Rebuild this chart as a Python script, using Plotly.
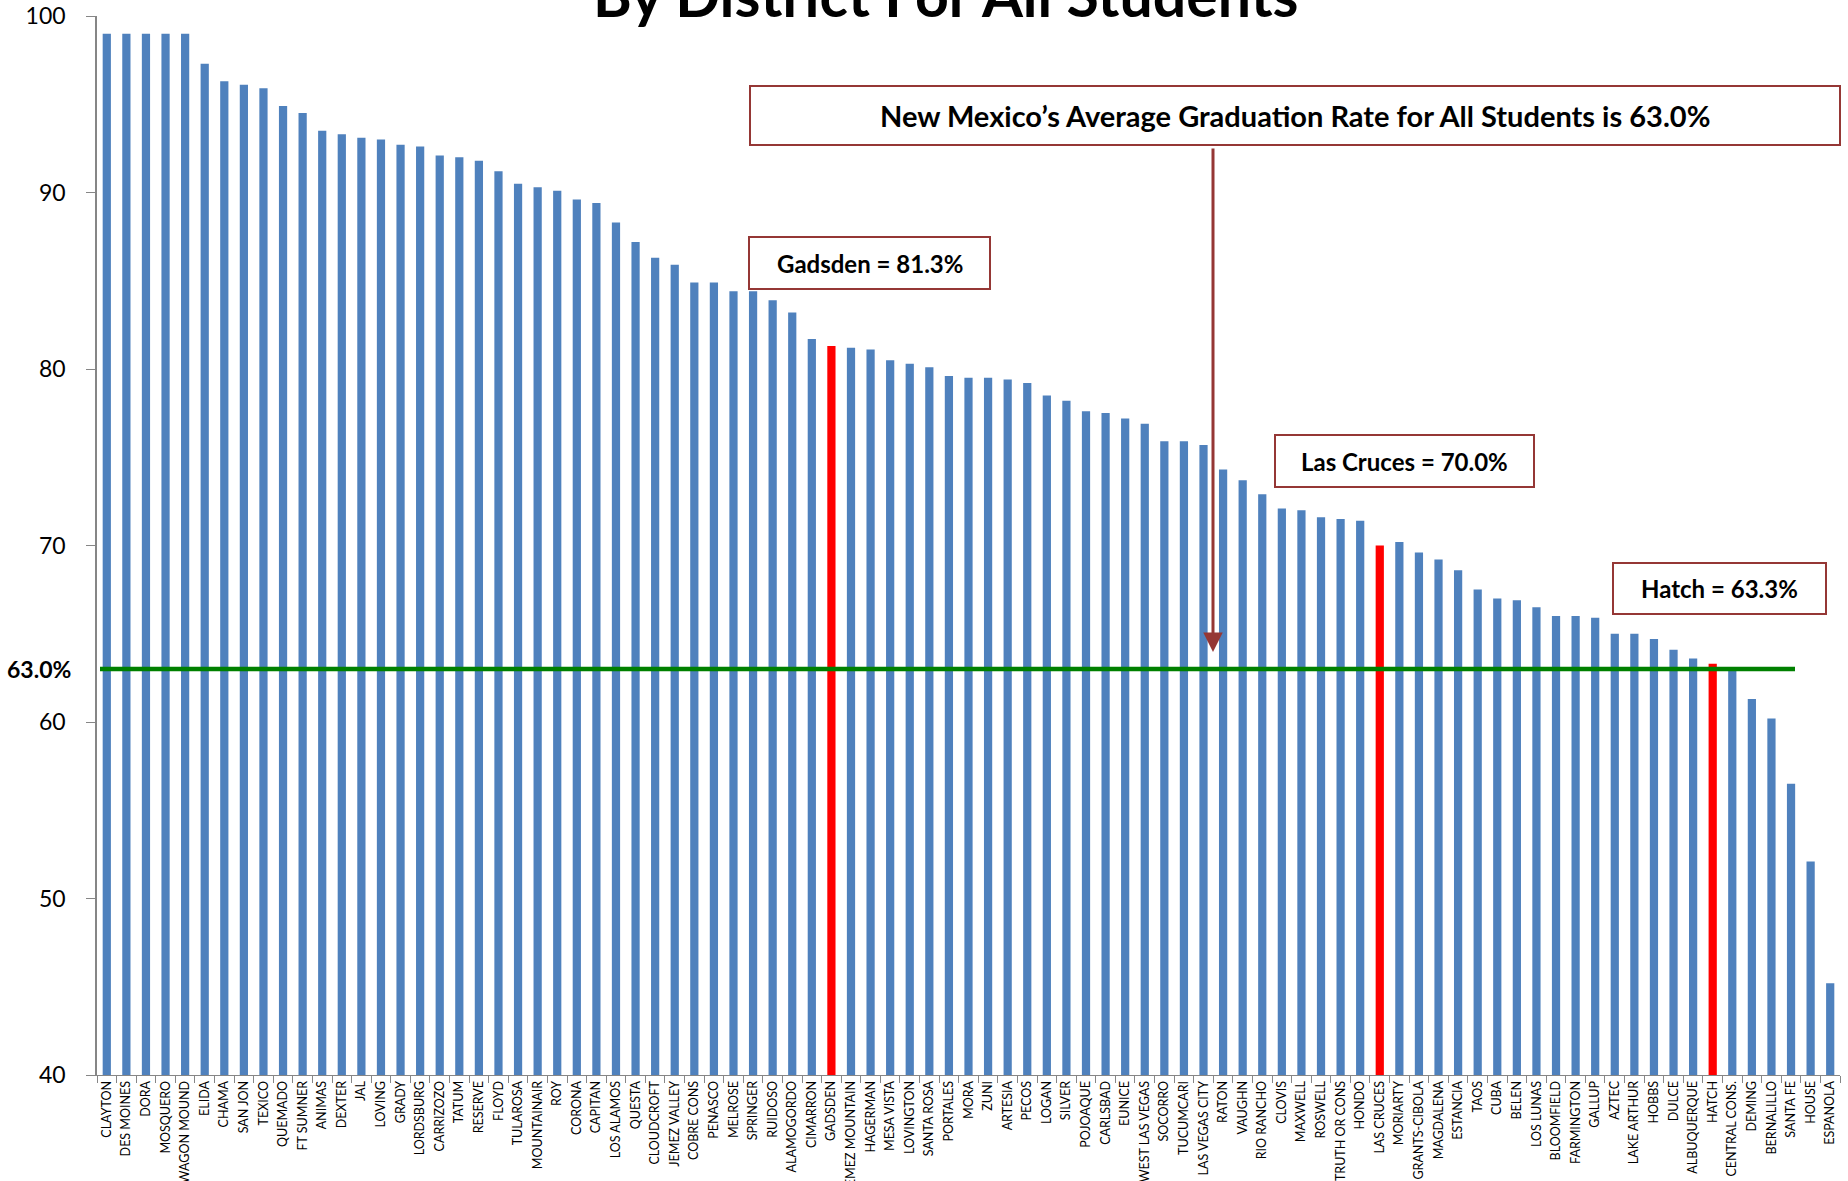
import plotly.graph_objects as go

# District graduation rates (%), all students, sorted high to low
districts = [
    "CLAYTON", "DES MOINES", "DORA", "MOSQUERO", "WAGON MOUND", "ELIDA", "CHAMA", "SAN JON",
    "TEXICO", "QUEMADO", "FT SUMNER", "ANIMAS", "DEXTER", "JAL", "LOVING", "GRADY",
    "LORDSBURG", "CARRIZOZO", "TATUM", "RESERVE", "FLOYD", "TULAROSA", "MOUNTAINAIR", "ROY",
    "CORONA", "CAPITAN", "LOS ALAMOS", "QUESTA", "CLOUDCROFT", "JEMEZ VALLEY", "COBRE CONS",
    "PENASCO", "MELROSE", "SPRINGER", "RUIDOSO", "ALAMOGORDO", "CIMARRON", "GADSDEN",
    "JEMEZ MOUNTAIN", "HAGERMAN", "MESA VISTA", "LOVINGTON", "SANTA ROSA", "PORTALES", "MORA",
    "ZUNI", "ARTESIA", "PECOS", "LOGAN", "SILVER", "POJOAQUE", "CARLSBAD", "EUNICE",
    "WEST LAS VEGAS", "SOCORRO", "TUCUMCARI", "LAS VEGAS CITY", "RATON", "VAUGHN",
    "RIO RANCHO", "CLOVIS", "MAXWELL", "ROSWELL", "TRUTH OR CONS", "HONDO", "LAS CRUCES",
    "MORIARTY", "GRANTS-CIBOLA", "MAGDALENA", "ESTANCIA", "TAOS", "CUBA", "BELEN",
    "LOS LUNAS", "BLOOMFIELD", "FARMINGTON", "GALLUP", "AZTEC", "LAKE ARTHUR", "HOBBS",
    "DULCE", "ALBUQUERQUE", "HATCH", "CENTRAL CONS.", "DEMING", "BERNALILLO", "SANTA FE",
    "HOUSE", "ESPANOLA",
]

rates = [
    99.0, 99.0, 99.0, 99.0, 99.0, 97.3, 96.3, 96.1,
    95.9, 94.9, 94.5, 93.5, 93.3, 93.1, 93.0, 92.7,
    92.6, 92.1, 92.0, 91.8, 91.2, 90.5, 90.3, 90.1,
    89.6, 89.4, 88.3, 87.2, 86.3, 85.9, 84.9,
    84.9, 84.4, 84.4, 83.9, 83.2, 81.7, 81.3,
    81.2, 81.1, 80.5, 80.3, 80.1, 79.6, 79.5,
    79.5, 79.4, 79.2, 78.5, 78.2, 77.6, 77.5, 77.2,
    76.9, 75.9, 75.9, 75.7, 74.3, 73.7,
    72.9, 72.1, 72.0, 71.6, 71.5, 71.4, 70.0,
    70.2, 69.6, 69.2, 68.6, 67.5, 67.0, 66.9,
    66.5, 66.0, 66.0, 65.9, 65.0, 65.0, 64.7,
    64.1, 63.6, 63.3, 62.9, 61.3, 60.2, 56.5,
    52.1, 45.2,
]

state_average = 63.0
highlighted = ["GADSDEN", "LAS CRUCES", "HATCH"]
callout_names = {"GADSDEN": "Gadsden", "LAS CRUCES": "Las Cruces", "HATCH": "Hatch"}
y_ticks = [40, 50, 60, 70, 80, 90, 100]

BLUE = "#4F81BD"
RED = "#FF0000"
BOX_RED = "#953735"
GREEN = "#008000"
FONT = "Lato"

W, H = 1848, 1181
L, R, T, B = 97, 8, 16, 106
PW, PH = W - L - R, H - T - B


def px(x):
    return (x - L) / PW


def py(y):
    return 1 - (y - T) / PH


bar_colors = [RED if d in highlighted else BLUE for d in districts]

fig = go.Figure()
fig.add_trace(go.Bar(
    x=districts, y=rates,
    marker=dict(color=bar_colors, line=dict(width=0)),
    hoverinfo="x+y",
))

shapes = []
annotations = []

# Chart title (partly above the page edge)
annotations.append(dict(
    text="<b>By District For All Students</b>", xref="paper", yref="paper",
    x=px(946), y=py(-5), xanchor="center", yanchor="middle", showarrow=False,
    font=dict(family=FONT, size=59, color="black"),
))

# State average line and its label
shapes.append(dict(
    type="line", xref="paper", yref="y", x0=px(100), x1=px(1795),
    y0=state_average, y1=state_average, line=dict(color=GREEN, width=4.5),
))
annotations.append(dict(
    text=f"<b>{state_average:.1f}%</b>", xref="paper", yref="y",
    x=px(73), y=state_average, xanchor="right", yanchor="middle", showarrow=False,
    font=dict(family=FONT, size=23, color="black"),
))


def callout(text, x0, y0, x1, y1, size):
    shapes.append(dict(
        type="rect", xref="paper", yref="paper",
        x0=px(x0), x1=px(x1), y0=py(y1), y1=py(y0),
        line=dict(color=BOX_RED, width=2), fillcolor="white", layer="above",
    ))
    annotations.append(dict(
        text=f"<b>{text}</b>", xref="paper", yref="paper",
        x=px((x0 + x1) / 2), y=py((y0 + y1) / 2), xanchor="center", yanchor="middle",
        showarrow=False, font=dict(family=FONT, size=size, color="black"),
    ))


callout(f"New Mexico\u2019s Average Graduation Rate for All Students is {state_average:.1f}%",
        750, 86, 1840, 145, 29)

boxes = {"GADSDEN": (749, 237, 990, 289), "LAS CRUCES": (1275, 435, 1534, 487),
         "HATCH": (1613, 563, 1826, 614)}
for name in highlighted:
    v = rates[districts.index(name)]
    x0, y0, x1, y1 = boxes[name]
    callout(f"{callout_names[name]} = {v:.1f}%", x0, y0, x1, y1, 24)

# Arrow from the average box down to the average line
annotations.append(dict(
    text="", xref="paper", yref="paper", x=px(1213), y=py(652),
    ax=0, ay=-(652 - 147), axref="pixel", ayref="pixel",
    showarrow=True, arrowhead=2, arrowsize=1.3, arrowwidth=3, arrowcolor=BOX_RED,
))

fig.update_layout(
    width=W, height=H,
    margin=dict(l=L, r=R, t=T, b=B, pad=0),
    paper_bgcolor="white", plot_bgcolor="white",
    showlegend=False, bargap=0.58,
    shapes=shapes, annotations=annotations,
    font=dict(family=FONT, color="black"),
    xaxis=dict(
        type="category", showline=True, linecolor="#868686", linewidth=1,
        ticks="outside", tickson="boundaries", ticklen=7, tickcolor="#868686",
        tickangle=-90, tickfont=dict(family=FONT, size=12.5, color="black"),
        showgrid=False, automargin=False, range=[-0.5, len(districts) - 0.5],
    ),
    yaxis=dict(
        range=[40, 100], tickvals=y_ticks, ticktext=[str(t) for t in y_ticks],
        showline=True, linecolor="#868686", linewidth=1.5,
        ticks="outside", ticklen=9, tickcolor="#868686", ticklabelstandoff=16,
        tickfont=dict(family=FONT, size=23, color="black"),
        showgrid=False, zeroline=False, automargin=False,
    ),
)

fig.write_html("out.html")
